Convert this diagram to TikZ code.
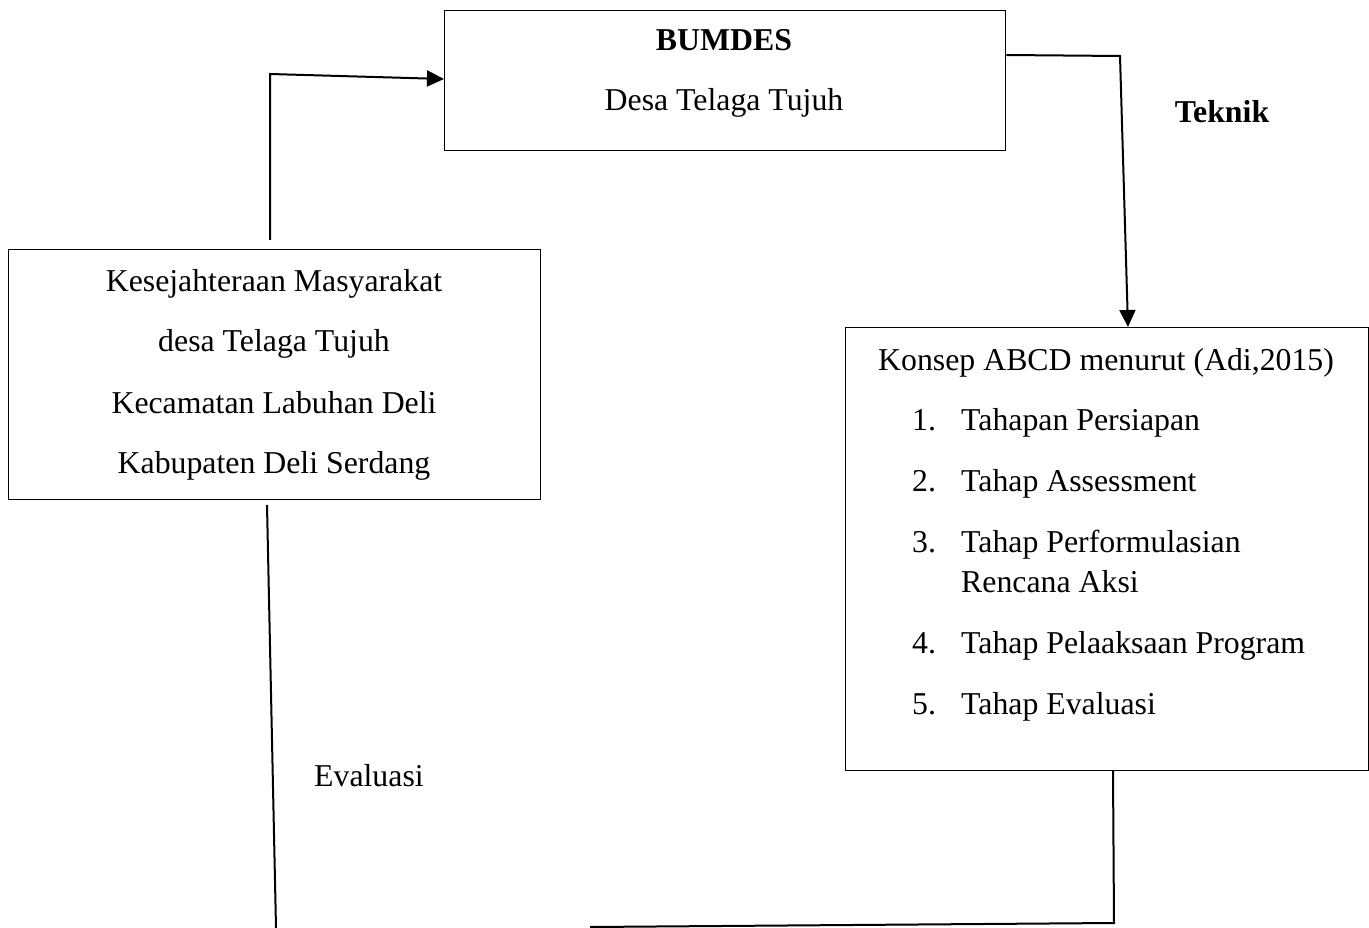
\documentclass[tikz,border=0pt]{standalone}
\usepackage{fontspec}
\setmainfont{Liberation Serif}
\usetikzlibrary{arrows.meta}
\begin{document}
\begin{tikzpicture}[x=1pt,y=-1pt,
  box/.style={draw,line width=1.4pt,anchor=north west,inner sep=0pt},
  txt/.style={font=\fontsize{31.8}{31.8}\selectfont,inner sep=0pt,anchor=base},
  txtl/.style={font=\fontsize{31.8}{31.8}\selectfont,inner sep=0pt,anchor=base west},
  conn/.style={line width=2pt},
  arr/.style={line width=2pt,-{Triangle[length=17pt,width=16pt]}}]
\useasboundingbox (0,0) rectangle (1369,928);
\fill[white] (0,0) rectangle (1369,928);
% boxes
\node[box,minimum width=561pt,minimum height=140pt] (bum) at (444,10) {};
\node[box,minimum width=532pt,minimum height=250pt] (kes) at (8,249) {};
\node[box,minimum width=523pt,minimum height=443pt] (abcd) at (845,327) {};
% texts
\node[txt,font=\fontsize{31.8}{31.8}\selectfont\bfseries] (t1) at (724,51) {BUMDES};
\node[txt] (t2) at (724,111) {Desa Telaga Tujuh};
\node[txt,font=\fontsize{31.8}{31.8}\selectfont\bfseries] (tek) at (1222,123) {Teknik};
\node[txt] (k1) at (274,291) {Kesejahteraan Masyarakat};
\node[txt] (k2) at (274,351) {desa Telaga Tujuh};
\node[txt] (k3) at (274,413) {Kecamatan Labuhan Deli};
\node[txt] (k4) at (274,473) {Kabupaten Deli Serdang};
\node[txtl] (a0) at (878,370) {Konsep ABCD menurut (Adi,2015)};
\node[txtl] (n1) at (912,430) {1.};
\node[txtl] (i1) at (961,430) {Tahapan Persiapan};
\node[txtl] (n2) at (912,491) {2.};
\node[txtl] (i2) at (961,491) {Tahap Assessment};
\node[txtl] (n3) at (912,552) {3.};
\node[txtl] (i3) at (961,552) {Tahap Performulasian};
\node[txtl] (i3b) at (961,592) {Rencana Aksi};
\node[txtl] (n4) at (912,653) {4.};
\node[txtl] (i4) at (961,653) {Tahap Pelaaksaan Program};
\node[txtl] (n5) at (912,714) {5.};
\node[txtl] (i5) at (961,714) {Tahap Evaluasi};
\node[txtl] (ev) at (314,786) {Evaluasi};
% connector points
\coordinate (p1) at (270,240);
\coordinate (p2) at (270,74);
\coordinate (q1) at (1120,56);
\coordinate (q2) at (1128,327);
\coordinate (r1) at (1113,771);
\coordinate (r2) at (1114,923);
\coordinate (r3) at (590,927);
\coordinate (s1) at (267,505);
\coordinate (s2) at (276,928);
% connectors
\draw[arr] (p1) -- (p2) -- (bum.west |- 0,79);
\draw[arr] (bum.east |- 0,55) -- (q1) -- (q2);
\draw[conn] (r1) -- (r2) -- (r3);
\draw[conn] (s1) -- (s2);
\end{tikzpicture}
\end{document}
